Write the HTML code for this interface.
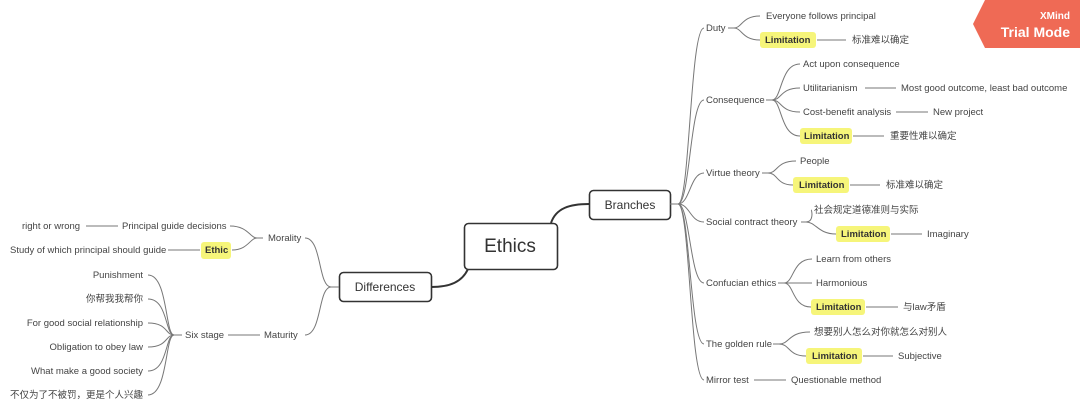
<!DOCTYPE html>
<html><head><meta charset="utf-8"><style>
html,body{margin:0;padding:0;background:#fff;width:1080px;height:412px;overflow:hidden}
text{font-family:"Liberation Sans","Noto Sans CJK SC",sans-serif;font-size:9.5px;fill:#444}
</style></head><body>
<svg width="1080" height="412" xmlns="http://www.w3.org/2000/svg">
<g fill="none" stroke="#333" stroke-width="2">
<path d="M551,223 C556,208 570,204 589,204"/>
<path d="M468,269 C462,282 450,287 431,287"/>
</g>
<rect x="464.5" y="223.5" width="93" height="46" rx="4" fill="#fff" stroke="#333" stroke-width="1.6"/>
<text x="510" y="252" text-anchor="middle" style="font-size:19px;fill:#333">Ethics</text>
<rect x="589.5" y="190.5" width="81" height="29" rx="4" fill="#fff" stroke="#333" stroke-width="1.6"/>
<text x="630" y="209" text-anchor="middle" style="font-size:12px;fill:#333">Branches</text>
<rect x="339.5" y="272.5" width="92" height="29" rx="4" fill="#fff" stroke="#333" stroke-width="1.6"/>
<text x="385" y="291" text-anchor="middle" style="font-size:12px;fill:#333">Differences</text>

<g fill="none" stroke="#777" stroke-width="1">
<path d="M670,204 H678 C690,204 690,28 704,28"/>
<path d="M678,204 C690,204 690,100 704,100"/>
<path d="M678,204 C690,204 690,173 704,173"/>
<path d="M678,204 C690,204 690,222 704,222"/>
<path d="M678,204 C690,204 690,283 704,283"/>
<path d="M678,204 C690,204 690,344 704,344"/>
<path d="M678,204 C690,204 690,380 704,380"/>
<path d="M728,28 H734 C742,28 742,16 760,16"/>
<path d="M734,28 C742,28 742,40 760,40"/>
<path d="M817,40 H846"/>
<path d="M766,100 H772 C782,100 780,64 800,64"/>
<path d="M772,100 C782,100 780,88 800,88"/>
<path d="M772,100 C782,100 780,112 800,112"/>
<path d="M772,100 C782,100 780,136 800,136"/>
<path d="M865,88 H896"/><path d="M896,112 H928"/><path d="M853,136 H884"/>
<path d="M762,173 H768 C778,173 776,161 796,161"/>
<path d="M768,173 C778,173 776,185 793,185"/>
<path d="M850,185 H880"/>
<path d="M801,222 H806 C814,222 812,210 811,210"/>
<path d="M806,222 C816,222 818,234 836,234"/>
<path d="M891,234 H922"/>
<path d="M778,283 H784 C794,283 792,259 812,259"/>
<path d="M784,283 H812"/>
<path d="M784,283 C794,283 792,307 811,307"/>
<path d="M866,307 H898"/>
<path d="M773,344 H779 C790,344 788,332 810,332"/>
<path d="M779,344 C790,344 788,356 806,356"/>
<path d="M863,356 H893"/>
<path d="M754,380 H786"/>
<path d="M339,287 H331 C318,287 322,238 305,238"/>
<path d="M331,287 C318,287 322,335 305,335"/>
<path d="M263,238 H257 C250,238 248,226 230,226"/>
<path d="M257,238 C250,238 248,250 232,250"/>
<path d="M86,226 H118"/><path d="M168,250 H200"/>
<path d="M228,335 H260"/>
<path d="M182,335 H174 C165,335 168,275 148,275"/>
<path d="M174,335 C165,335 168,299 148,299"/>
<path d="M174,335 C165,335 168,323 148,323"/>
<path d="M174,335 C165,335 168,347 148,347"/>
<path d="M174,335 C165,335 168,371 148,371"/>
<path d="M174,335 C165,335 168,395 148,395"/>
</g>

<g fill="#f6f57a">
<rect x="760" y="32" width="56" height="16" rx="3"/>
<rect x="800" y="128" width="52" height="16" rx="3"/>
<rect x="793" y="177" width="56" height="16" rx="3"/>
<rect x="836" y="226" width="54" height="16" rx="3"/>
<rect x="811" y="299" width="54" height="16" rx="3"/>
<rect x="806" y="348" width="56" height="16" rx="3"/>
<rect x="201" y="242" width="30" height="17" rx="3"/>
</g>

<g>
<text x="706" y="31">Duty</text>
<text x="766" y="19">Everyone follows principal</text>
<text x="765" y="43" style="fill:#333;font-weight:bold">Limitation</text>
<text x="852" y="43">标准难以确定</text>
<text x="706" y="103">Consequence</text>
<text x="803" y="67">Act upon consequence</text>
<text x="803" y="91">Utilitarianism</text>
<text x="901" y="91">Most good outcome, least bad outcome</text>
<text x="803" y="115">Cost-benefit analysis</text>
<text x="933" y="115">New project</text>
<text x="804" y="139" style="fill:#333;font-weight:bold">Limitation</text>
<text x="890" y="139">重要性难以确定</text>
<text x="706" y="176">Virtue theory</text>
<text x="800" y="164">People</text>
<text x="799" y="188" style="fill:#333;font-weight:bold">Limitation</text>
<text x="886" y="188">标准难以确定</text>
<text x="706" y="225">Social contract theory</text>
<text x="814" y="213">社会规定道德准则与实际</text>
<text x="841" y="237" style="fill:#333;font-weight:bold">Limitation</text>
<text x="927" y="237">Imaginary</text>
<text x="706" y="286">Confucian ethics</text>
<text x="816" y="262">Learn from others</text>
<text x="816" y="286">Harmonious</text>
<text x="816" y="310" style="fill:#333;font-weight:bold">Limitation</text>
<text x="903" y="310">与law矛盾</text>
<text x="706" y="347">The golden rule</text>
<text x="814" y="335">想要别人怎么对你就怎么对别人</text>
<text x="812" y="359" style="fill:#333;font-weight:bold">Limitation</text>
<text x="898" y="359">Subjective</text>
<text x="706" y="383">Mirror test</text>
<text x="791" y="383">Questionable method</text>

<text x="268" y="241">Morality</text>
<text x="122" y="229">Principal guide decisions</text>
<text x="22" y="229">right or wrong</text>
<text x="205" y="253" style="fill:#333;font-weight:bold">Ethic</text>
<text x="10" y="253">Study of which principal should guide</text>
<text x="264" y="338">Maturity</text>
<text x="185" y="338">Six stage</text>
<g text-anchor="end">
<text x="143" y="278">Punishment</text>
<text x="143" y="302">你帮我我帮你</text>
<text x="143" y="326">For good social relationship</text>
<text x="143" y="350">Obligation to obey law</text>
<text x="143" y="374">What make a good society</text>
<text x="143" y="398">不仅为了不被罚，更是个人兴趣</text>
</g>
</g>

<polygon points="985,0 1080,0 1080,48 985,48 973,24" fill="#ef6a55"/>
<text x="1070" y="19" text-anchor="end" style="fill:#fff;font-weight:bold;font-size:10px">XMind</text>
<text x="1070" y="37" text-anchor="end" style="fill:#fff;font-weight:bold;font-size:14px">Trial Mode</text>
</svg>
</body></html>
